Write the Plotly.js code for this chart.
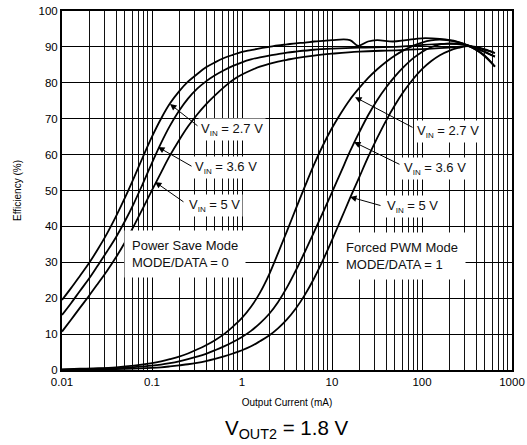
<!DOCTYPE html>
<html><head><meta charset="utf-8">
<script src="https://cdn.plot.ly/plotly-3.0.1.min.js"></script>
<style>html,body{margin:0;padding:0;background:#fff}#chart{width:527px;height:445px}</style>
</head><body><div id="chart"></div>
<script>
// Output current (mA) and efficiency (%)
// Power Save Mode (MODE/DATA = 0)
const ps27_I   = [0.01,0.0126,0.0158,0.02,0.0251,0.0316,0.0398,0.0501,0.0631,0.0794,0.1,0.126,0.158,0.2,0.251,0.316,0.398,0.501,0.631,0.794,1,1.26,1.58,2,2.51,3.16,3.98,5.01,6.31,7.94,10,15.8,19.5,25.1,31.6,47.5,66.5,100,158,244,316,474,646];
const ps27_Eff = [19.5,22.8,26.2,29.8,33.7,38.0,42.8,48.0,53.6,59.4,65.0,70.0,74.2,77.6,80.3,82.4,84.3,85.7,86.9,87.8,88.6,89.1,89.6,90.0,90.4,90.7,91.0,91.2,91.5,91.7,91.9,91.9,90.3,91.5,91.9,91.5,91.9,92.4,92.2,91.5,90.5,88.0,84.5];
const ps36_I   = [0.01,0.0126,0.0158,0.02,0.0251,0.0316,0.0398,0.0501,0.0631,0.0794,0.1,0.126,0.158,0.2,0.251,0.316,0.398,0.501,0.631,0.794,1,1.26,1.58,2,2.51,3.16,3.98,6.31,10,20,57,150,316,450,646];
const ps36_Eff = [15.3,18.6,22.0,25.5,29.2,33.0,37.0,41.5,46.5,52.0,57.7,63.2,68.0,72.2,75.6,78.3,80.4,82.1,83.5,84.7,85.7,86.5,87.1,87.6,88.0,88.4,88.7,89.2,89.5,89.8,90.1,90.8,90.5,89.0,87.3];
const ps50_I   = [0.01,0.0126,0.0158,0.02,0.0251,0.0316,0.0398,0.0501,0.0631,0.0794,0.1,0.126,0.158,0.2,0.251,0.316,0.398,0.501,0.631,0.794,1,1.26,1.58,2,2.51,3.16,3.98,6.31,10,20,57,200,316,450,646];
const ps50_Eff = [10.7,14.0,17.3,20.7,24.1,27.6,31.4,35.6,40.2,45.1,50.1,55.0,59.7,64.0,67.8,71.1,74.0,76.5,78.8,80.8,82.3,83.5,84.5,85.3,85.9,86.4,86.9,87.6,88.1,88.7,89.1,89.8,90.2,89.5,88.3];
// Forced PWM Mode (MODE/DATA = 1)
const pwm_I     = [0.01,0.0158,0.0251,0.0398,0.0631,0.1,0.126,0.158,0.2,0.251,0.316,0.398,0.501,0.631,0.794,1,1.26,1.58,2,2.51,3.16,3.98,5.01,6.31,7.94,10,12.6,15.8,20,25.1,31.6,39.8,50.1,63.1,79.4,100,126,158,200,251,316,398,501,646];
const pwm27_Eff = [0.2,0.35,0.5,0.75,1.2,1.9,2.4,3.0,3.7,4.6,5.7,6.9,8.3,10.0,12.1,14.5,17.6,21.5,26.6,32.5,38.7,45.0,51.2,57.2,62.6,67.4,71.6,75.3,78.5,81.3,83.7,85.8,87.6,89.1,90.3,91.2,91.8,92.0,91.8,91.3,90.5,89.2,87.3,84.5];
const pwm36_Eff = [0.1,0.2,0.33,0.5,0.8,1.2,1.5,1.9,2.4,3.0,3.7,4.5,5.5,6.6,7.8,9.2,10.9,13.0,15.6,18.9,23.0,27.8,33.0,38.4,43.9,49.5,55.2,60.8,66.1,70.9,75.1,78.7,81.8,84.5,86.8,88.6,89.9,90.7,91.0,90.9,90.5,89.7,88.6,87.3];
const pwm50_Eff = [0.05,0.1,0.15,0.25,0.4,0.6,0.75,1.0,1.3,1.6,2.0,2.5,3.1,3.8,4.6,5.5,6.6,8.0,9.6,11.6,14.1,17.2,21.0,25.5,30.6,36.2,42.0,47.8,53.6,59.2,64.5,69.4,73.8,77.7,81.0,83.8,86.0,87.7,88.9,89.7,90.2,90.0,89.3,88.3];

const xTickVals = [0.01, 0.1, 1, 10, 100, 1000];
const xTickText = ['0.01', '0.1', '1', '10', '100', '1000'];
const yTickVals = [0, 10, 20, 30, 40, 50, 60, 70, 80, 90, 100];

const seriesList = [
  [ps27_I, ps27_Eff], [ps36_I, ps36_Eff], [ps50_I, ps50_Eff],
  [pwm_I, pwm27_Eff], [pwm_I, pwm36_Eff], [pwm_I, pwm50_Eff]
];
const traces = seriesList.map(s => ({
  x: s[0], y: s[1], type: 'scatter', mode: 'lines',
  line: {color: '#000', width: 1.8, shape: 'spline', smoothing: 1},
  hoverinfo: 'skip', showlegend: false
}));

const F = 'Liberation Sans, Arial, sans-serif';
function lbl(x, y, text) {
  return {xref: 'x', yref: 'y', x: x, y: y, text: text, showarrow: false,
    xanchor: 'left', yanchor: 'middle', align: 'left', bgcolor: '#fff', borderpad: 2,
    font: {family: F, size: 13, color: '#111'}};
}
function arr(x, y, ax, ay) {
  return {xref: 'x', yref: 'y', x: x, y: y, text: '', showarrow: true, ax: ax, ay: ay,
    arrowhead: 2, arrowsize: 1.3, arrowwidth: 1, arrowcolor: '#000', standoff: 0};
}
const vin = v => 'V<sub><span style="font-size:8px">IN</span></sub> = ' + v;

const annotations = [
  lbl(-0.49, 66.9, vin('2.7 V')),
  lbl(-0.555, 56.3, vin('3.6 V')),
  lbl(-0.62, 45.7, vin('5 V')),
  lbl(1.91, 66.4, vin('2.7 V')),
  lbl(1.765, 56.0, vin('3.6 V')),
  lbl(1.575, 45.5, vin('5 V')),
  Object.assign(lbl(-1.311, 32.3, 'Power Save Mode<br>MODE/DATA = 0'), {borderpad: 7}),
  Object.assign(lbl(1.067, 31.8, 'Forced PWM Mode<br>MODE/DATA = 1'), {borderpad: 7}),
  arr(-0.8, 74.1, 29, 23),
  arr(-0.933, 62.1, 35, 20),
  arr(-0.967, 52.4, 30, 21),
  arr(1.256, 76.0, 59, 31),
  arr(1.244, 63.5, 47, 23),
  arr(1.2, 48.2, 32, 9),
  {xref: 'paper', yref: 'paper', x: 0.5, y: -0.165, yanchor: 'middle', showarrow: false,
   text: 'V<sub>OUT2</sub> = 1.8 V', font: {family: F, size: 20.5, color: '#000'}}
];

const layout = {
  width: 527, height: 445,
  margin: {l: 62, r: 15, t: 11, b: 75},
  paper_bgcolor: '#fff', plot_bgcolor: '#fff',
  font: {family: F, color: '#000'},
  xaxis: {
    type: 'log', range: [-2, 3],
    tickvals: xTickVals, ticktext: xTickText, ticks: '',
    tickfont: {family: F, size: 11.5, color: '#000'},
    showgrid: true, gridcolor: '#000', gridwidth: 1,
    minor: {dtick: 'D1', showgrid: true, gridcolor: '#111', gridwidth: 1, ticks: ''},
    showline: true, mirror: true, linecolor: '#000', linewidth: 2,
    zeroline: false,
    title: {text: 'Output Current (mA)', font: {family: F, size: 10, color: '#000'}, standoff: 12}
  },
  yaxis: {
    range: [0, 100], tickvals: yTickVals, ticks: '',
    tickfont: {family: F, size: 11.5, color: '#000'},
    showgrid: true, gridcolor: '#000', gridwidth: 1,
    showline: true, mirror: true, linecolor: '#000', linewidth: 2,
    zeroline: false,
    title: {text: 'Efficiency (%)', font: {family: F, size: 10, color: '#000'}, standoff: 15}
  },
  annotations: annotations
};

Plotly.newPlot('chart', traces, layout, {displayModeBar: false, staticPlot: true});
</script></body></html>
